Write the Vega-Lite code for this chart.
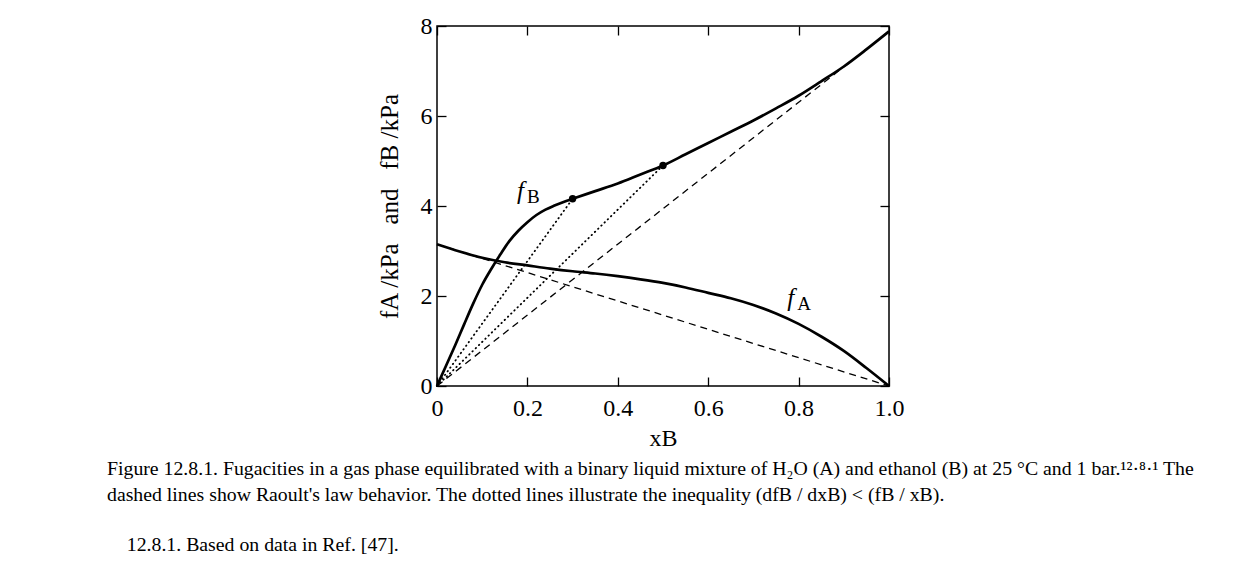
{
  "$schema": "https://vega.github.io/schema/vega-lite/v6.json",
  "width": 452,
  "height": 360,
  "autosize": {"type": "none"},
  "padding": {"left": 437, "top": 26, "right": 358, "bottom": 194},
  "background": "white",
  "config": {
    "view": {"stroke": "black", "strokeWidth": 1.5},
    "font": "Liberation Serif",
    "axis": {"domain": false, "grid": false, "labelFlush": false, "labelOverlap": false, "tickColor": "black", "tickWidth": 1.3, "tickSize": -9, "labelFont": "Liberation Serif", "labelFontSize": 24, "labelColor": "black", "titleFont": "Liberation Serif", "titleFontSize": 24, "titleFontWeight": "normal", "titleColor": "black"}
  },
  "title": {
    "text": ["Figure 12.8.1. Fugacities in a gas phase equilibrated with a binary liquid mixture of H₂O (A) and ethanol (B) at 25 °C and 1 bar.¹²·⁸·¹ The", "dashed lines show Raoult's law behavior. The dotted lines illustrate the inequality (dfB / dxB) < (fB / xB)."],
    "subtitle": "\u200b\u00a0\u00a0\u00a0\u00a012.8.1. Based on data in Ref. [47].",
    "orient": "bottom",
    "anchor": "start",
    "frame": "group",
    "dx": -330,
    "offset": 9,
    "font": "Liberation Serif",
    "fontSize": 19.8,
    "fontWeight": "normal",
    "lineHeight": 26,
    "color": "black",
    "subtitleFont": "Liberation Serif",
    "subtitleFontSize": 19.8,
    "subtitleColor": "black",
    "subtitlePadding": 30
  },
  "data": {
    "values": [
      {"series": "fB", "x": 0, "y": 0},
      {"series": "fB", "x": 0.02, "y": 0.45},
      {"series": "fB", "x": 0.04, "y": 0.9},
      {"series": "fB", "x": 0.06, "y": 1.37},
      {"series": "fB", "x": 0.08, "y": 1.83},
      {"series": "fB", "x": 0.10, "y": 2.25},
      {"series": "fB", "x": 0.12, "y": 2.6},
      {"series": "fB", "x": 0.14, "y": 2.92},
      {"series": "fB", "x": 0.16, "y": 3.22},
      {"series": "fB", "x": 0.18, "y": 3.45},
      {"series": "fB", "x": 0.20, "y": 3.64},
      {"series": "fB", "x": 0.22, "y": 3.8},
      {"series": "fB", "x": 0.24, "y": 3.92},
      {"series": "fB", "x": 0.26, "y": 4.01},
      {"series": "fB", "x": 0.28, "y": 4.09},
      {"series": "fB", "x": 0.30, "y": 4.16},
      {"series": "fB", "x": 0.35, "y": 4.33},
      {"series": "fB", "x": 0.40, "y": 4.5},
      {"series": "fB", "x": 0.45, "y": 4.7},
      {"series": "fB", "x": 0.50, "y": 4.9},
      {"series": "fB", "x": 0.55, "y": 5.15},
      {"series": "fB", "x": 0.60, "y": 5.4},
      {"series": "fB", "x": 0.65, "y": 5.65},
      {"series": "fB", "x": 0.70, "y": 5.9},
      {"series": "fB", "x": 0.75, "y": 6.17},
      {"series": "fB", "x": 0.80, "y": 6.45},
      {"series": "fB", "x": 0.85, "y": 6.77},
      {"series": "fB", "x": 0.90, "y": 7.1},
      {"series": "fB", "x": 0.95, "y": 7.48},
      {"series": "fB", "x": 1.0, "y": 7.88},
      {"series": "fA", "x": 0, "y": 3.15},
      {"series": "fA", "x": 0.05, "y": 2.99},
      {"series": "fA", "x": 0.10, "y": 2.85},
      {"series": "fA", "x": 0.15, "y": 2.75},
      {"series": "fA", "x": 0.20, "y": 2.68},
      {"series": "fA", "x": 0.25, "y": 2.61},
      {"series": "fA", "x": 0.30, "y": 2.55},
      {"series": "fA", "x": 0.35, "y": 2.5},
      {"series": "fA", "x": 0.40, "y": 2.44},
      {"series": "fA", "x": 0.45, "y": 2.37},
      {"series": "fA", "x": 0.50, "y": 2.29},
      {"series": "fA", "x": 0.55, "y": 2.19},
      {"series": "fA", "x": 0.60, "y": 2.07},
      {"series": "fA", "x": 0.65, "y": 1.95},
      {"series": "fA", "x": 0.70, "y": 1.8},
      {"series": "fA", "x": 0.75, "y": 1.61},
      {"series": "fA", "x": 0.80, "y": 1.38},
      {"series": "fA", "x": 0.85, "y": 1.1},
      {"series": "fA", "x": 0.90, "y": 0.78},
      {"series": "fA", "x": 0.95, "y": 0.4},
      {"series": "fA", "x": 1.0, "y": 0},
      {"series": "raoultA", "x": 0, "y": 3.15},
      {"series": "raoultA", "x": 1.0, "y": 0},
      {"series": "raoultB", "x": 0, "y": 0},
      {"series": "raoultB", "x": 1.0, "y": 7.88},
      {"series": "dot1", "x": 0, "y": 0},
      {"series": "dot1", "x": 0.3, "y": 4.16},
      {"series": "dot2", "x": 0, "y": 0},
      {"series": "dot2", "x": 0.5, "y": 4.9},
      {"series": "point", "x": 0.3, "y": 4.16},
      {"series": "point", "x": 0.5, "y": 4.9},
      {"series": "label", "x": 0.177, "y": 4.33, "main": "f", "sub": "B"},
      {"series": "label", "x": 0.775, "y": 1.95, "main": "f", "sub": "A"}
    ]
  },
  "encoding": {
    "x": {"field": "x", "type": "quantitative", "scale": {"domain": [0, 1], "nice": false, "zero": false}},
    "y": {"field": "y", "type": "quantitative", "scale": {"domain": [0, 8], "nice": false}}
  },
  "layer": [
    {
      "transform": [{"filter": "datum.series == 'raoultA' || datum.series == 'raoultB'"}],
      "mark": {"type": "line", "color": "black", "strokeWidth": 1.3, "strokeDash": [7, 5]},
      "encoding": {
        "detail": {"field": "series"},
        "x": {"field": "x", "type": "quantitative", "axis": {"orient": "bottom", "values": [0, 0.2, 0.4, 0.6, 0.8, 1.0], "labelExpr": "datum.value == 0 ? '0' : format(datum.value, '.1f')", "title": "xB", "labelPadding": 19, "titlePadding": 6}},
        "y": {"field": "y", "type": "quantitative", "axis": {"orient": "left", "values": [0, 2, 4, 6, 8], "title": "fA /kPa\u00a0\u00a0 and \u00a0\u00a0fB /kPa", "titleFontSize": 25, "labelPadding": 14, "titlePadding": 18}}
      }
    },
    {
      "transform": [{"filter": "datum.series == 'dot1' || datum.series == 'dot2'"}],
      "mark": {"type": "line", "color": "black", "strokeWidth": 1.8, "strokeDash": [0.5, 4], "strokeCap": "round"},
      "encoding": {
        "detail": {"field": "series"},
        "x": {"field": "x", "type": "quantitative", "axis": {"orient": "top", "values": [0, 0.2, 0.4, 0.6, 0.8, 1.0], "labels": false, "title": null}},
        "y": {"field": "y", "type": "quantitative", "axis": {"orient": "right", "values": [0, 2, 4, 6, 8], "labels": false, "title": null}}
      }
    },
    {
      "transform": [{"filter": "datum.series == 'fA' || datum.series == 'fB'"}],
      "mark": {"type": "line", "color": "black", "strokeWidth": 2.7, "interpolate": "monotone"},
      "encoding": {
        "detail": {"field": "series"},
        "x": {"field": "x", "type": "quantitative", "axis": null},
        "y": {"field": "y", "type": "quantitative", "axis": null}
      }
    },
    {
      "transform": [{"filter": "datum.series == 'point'"}],
      "mark": {"type": "point", "filled": true, "color": "black", "size": 55, "opacity": 1},
      "encoding": {
        "x": {"field": "x", "type": "quantitative", "axis": null},
        "y": {"field": "y", "type": "quantitative", "axis": null}
      }
    },
    {
      "transform": [{"filter": "datum.series == 'label'"}],
      "mark": {"type": "text", "font": "Liberation Serif", "fontStyle": "italic", "fontSize": 25, "align": "left", "baseline": "middle", "color": "black"},
      "encoding": {
        "x": {"field": "x", "type": "quantitative", "axis": null},
        "y": {"field": "y", "type": "quantitative", "axis": null},
        "text": {"field": "main"}
      }
    },
    {
      "transform": [{"filter": "datum.series == 'label'"}],
      "mark": {"type": "text", "font": "Liberation Serif", "fontSize": 19, "align": "left", "baseline": "middle", "dx": 10, "dy": 6, "color": "black"},
      "encoding": {
        "x": {"field": "x", "type": "quantitative", "axis": null},
        "y": {"field": "y", "type": "quantitative", "axis": null},
        "text": {"field": "sub"}
      }
    }
  ],
  "resolve": {"axis": {"x": "independent", "y": "independent"}}
}
